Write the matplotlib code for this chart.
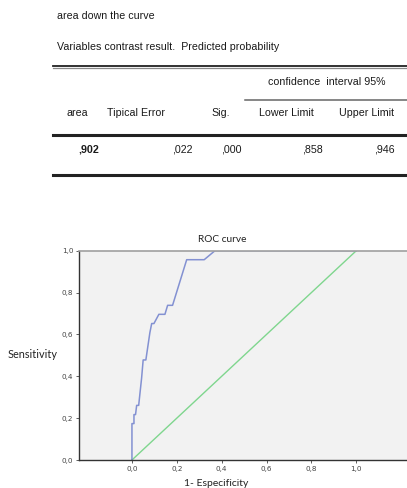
import matplotlib
matplotlib.use("Agg")
import matplotlib.pyplot as plt
from matplotlib.lines import Line2D

W, H = 407, 488

# Summary table
table_title = "area down the curve"
table_subtitle = "Variables contrast result.  Predicted probability"
ci_header = "confidence  interval 95%"
headers = ["area", "Tipical Error", "Sig.", "Lower Limit", "Upper Limit"]
values = [",902", ",022", ",000", ",858", ",946"]

# ROC curve points (1 - specificity, sensitivity)
fpr = [0.0, 0.0, 0.009, 0.009, 0.016, 0.021, 0.030, 0.043, 0.050, 0.050, 0.062,
       0.080, 0.088, 0.098, 0.120, 0.147, 0.159, 0.181, 0.244, 0.322, 0.370, 1.0]
tpr = [0.0, 0.174, 0.174, 0.217, 0.217, 0.261, 0.261, 0.391, 0.478, 0.478, 0.478,
       0.609, 0.652, 0.652, 0.696, 0.696, 0.739, 0.739, 0.957, 0.957, 1.0, 1.0]
ref_line = [0.0, 1.0]
ticks = [0.0, 0.2, 0.4, 0.6, 0.8, 1.0]
tick_labels = ["0,0", "0,2", "0,4", "0,6", "0,8", "1,0"]

fig = plt.figure(figsize=(W / 100, H / 100), dpi=100)
fig.patch.set_facecolor("white")

TFONT = "Liberation Sans"


def fx(px):
    return px / W


def fy(py):
    return 1 - py / H


def ftext(px, py, s, ha="left", **kw):
    fig.text(fx(px), fy(py), s, ha=ha, va="center", family=TFONT,
             fontsize=7.7, color="#1a1a1a", **kw)


def hline(x0, x1, py, lw, color="#222222"):
    fig.add_artist(Line2D([fx(x0), fx(x1)], [fy(py), fy(py)], lw=lw,
                          color=color, transform=fig.transFigure))


ftext(57, 16, table_title)
ftext(57, 47, table_subtitle)

hline(53, 407, 66, 1.3)
hline(53, 407, 67.8, 0.9, "#8a8a8a")
hline(245, 407, 100, 1.1, "#666666")
hline(53, 407, 135, 2.2)
hline(53, 407, 175, 2.2)

ftext(327, 82, ci_header, ha="center")
ftext(77, 113, headers[0], ha="center")
ftext(107, 113, headers[1], ha="left")
ftext(221, 113, headers[2], ha="center")
ftext(286, 113, headers[3], ha="center")
ftext(367, 113, headers[4], ha="center")

ftext(99, 149, values[0], ha="right", fontweight="bold")
ftext(193, 149, values[1], ha="right")
ftext(242, 149, values[2], ha="right")
ftext(323, 149, values[3], ha="right")
ftext(395, 149, values[4], ha="right")

# ROC chart
ax = fig.add_axes([79 / W, 1 - 460 / H, 1 - 79 / W, (460 - 250.7) / H])
ax.set_facecolor("#f2f2f2")
ax.plot(ref_line, ref_line, color="#7fd68e", lw=1.0)
ax.plot(fpr, tpr, color="#8391d2", lw=1.1)
ax.set_xlim(-0.236, 1.226)
ax.set_ylim(0, 1)

ax.set_xticks(ticks)
ax.set_xticklabels(tick_labels)
ax.set_yticks(ticks)
ax.set_yticklabels(tick_labels)
ax.tick_params(labelsize=5.2, length=2, width=0.6, colors="#444444", pad=2)

for side in ["left", "bottom"]:
    ax.spines[side].set_color("#333333")
    ax.spines[side].set_linewidth(1.0)
ax.spines["top"].set_color("#a0a0a0")
ax.spines["top"].set_linewidth(1.2)
ax.spines["right"].set_visible(False)

LFONT = "Lato"
fig.text(fx(222.7), fy(239), "ROC curve", ha="center", va="center",
         family=LFONT, fontsize=7.3, color="#222222")
fig.text(fx(32.5), fy(354), "Sensitivity", ha="center", va="center",
         family=LFONT, fontsize=7.8, color="#222222")
fig.text(fx(216), fy(484), "1- Especificity", ha="center", va="center",
         family=LFONT, fontsize=7.5, color="#222222")

fig.savefig("out.png", dpi=100)
